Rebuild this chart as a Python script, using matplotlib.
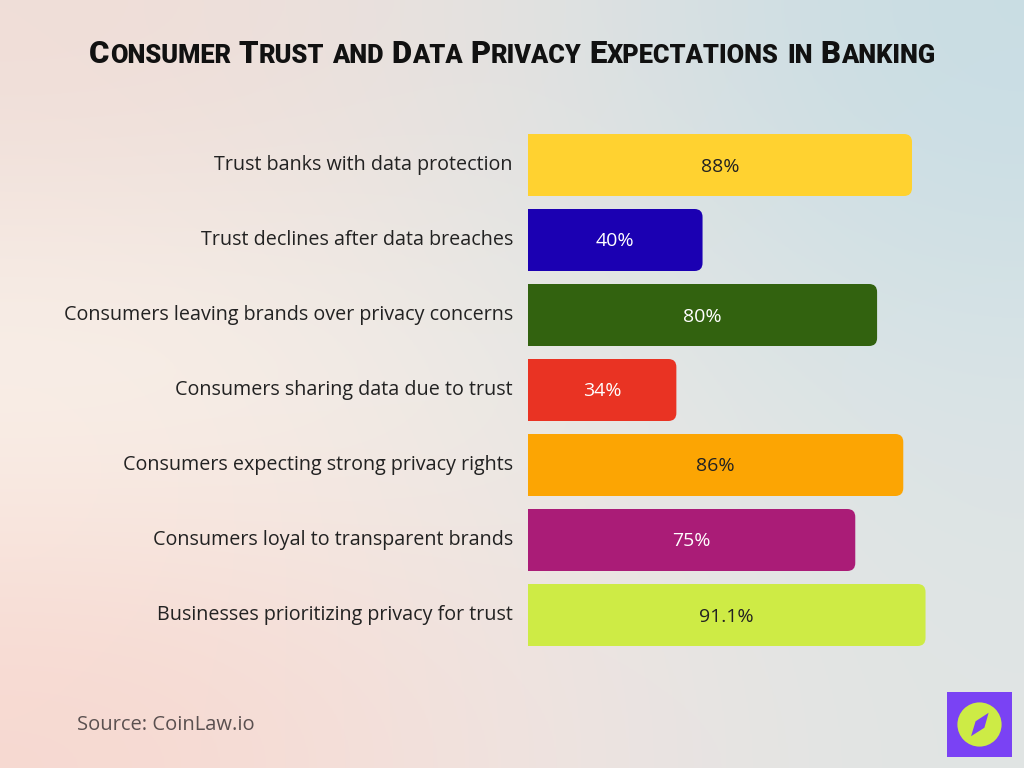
import numpy as np
import matplotlib.pyplot as plt
from matplotlib.patches import FancyBboxPatch, Rectangle, Circle, Polygon

labels = ['Trust banks with data protection',
          'Trust declines after data breaches',
          'Consumers leaving brands over privacy concerns',
          'Consumers sharing data due to trust',
          'Consumers expecting strong privacy rights',
          'Consumers loyal to transparent brands',
          'Businesses prioritizing privacy for trust']
values = [88, 40, 80, 34, 86, 75, 91.1]
value_text = ['88%', '40%', '80%', '34%', '86%', '75%', '91.1%']
colors = ['#FFD230', '#1B00B2', '#32620F', '#E93323', '#FCA503', '#AA1C77', '#CEEB45']
text_colors = ['#222222', 'white', 'white', 'white', '#222222', 'white', '#222222']
title = 'Consumer Trust and Data Privacy Expectations in Banking'

W, H = 1024, 768
fig = plt.figure(figsize=(10.24, 7.68), dpi=100)
renderer = fig.canvas.get_renderer()

# background gradient
bg = fig.add_axes([0, 0, 1, 1])
grid = np.array([
    [[240, 221, 215], [229, 227, 225], [200, 221, 228]],
    [[251, 246, 238], [236, 234, 229], [217, 228, 230]],
    [[247, 216, 208], [242, 228, 224], [224, 228, 228]],
]) / 255.0
bg.imshow(grid, extent=[0, 1, 0, 1], aspect='auto', interpolation='bicubic')
bg.set_xlim(0, 1)
bg.set_ylim(0, 1)
bg.axis('off')

# title in fake small caps: capitals bigger, lowercase shown as smaller capitals
title_font = dict(family=['Roboto', 'DejaVu Sans'], weight='heavy',
                  stretch='condensed', color='#111111')


def split_runs(word):
    runs = []
    for ch in word:
        is_big = ch.isupper()
        if runs and runs[-1][1] == is_big:
            runs[-1][0] += ch.upper()
        else:
            runs.append([ch.upper(), is_big])
    return runs


def draw_title(big, small):
    texts, x = [], 0.0
    for wi, word in enumerate(title.split(' ')):
        if wi > 0:
            x += 0.26 * big * 100 / 72
        for s, is_big in split_runs(word):
            t = fig.text(0, 1 - 63 / H, s, fontsize=big if is_big else small,
                         ha='left', va='baseline', **title_font)
            texts.append((t, x))
            x += t.get_window_extent(renderer).width
    return texts, x


texts, total = draw_title(27, 22)
scale = 845 / total
for t, _ in texts:
    t.remove()
texts, total = draw_title(27 * scale, 22 * scale)
x0 = (W - total) / 2
for t, off in texts:
    t.set_x((x0 + off) / W)

# bar axes
px_per_pct = (912 - 528) / 88
ax_left, ax_right = 528, 1000
ax = fig.add_axes([ax_left / W, 1 - 652.5 / H, (ax_right - ax_left) / W, 525 / H])
ax.set_xlim(0, (ax_right - ax_left) / px_per_pct)
ax.set_ylim(6.5, -0.5)
ax.axis('off')

y = np.arange(len(values))
bars = ax.barh(y, values, height=62 / 75, color=colors)
r = 8 / px_per_pct
for rect, c in zip(bars, colors):
    bx, by = rect.get_x(), rect.get_y()
    w, h = rect.get_width(), rect.get_height()
    rect.set_width(w / 2)  # keeps the left corners square
    ax.add_patch(FancyBboxPatch((bx, by), w, h,
                                boxstyle='round,pad=0,rounding_size=%f' % r,
                                mutation_aspect=(8 / 75) / r,
                                facecolor=c, edgecolor='none'))

for yi, v, s, tc in zip(y, values, value_text, text_colors):
    ax.text(v / 2, yi + 0.02, s, ha='center', va='center', fontsize=14,
            color=tc, family='Open Sans')

for yi, lab in zip(y, labels):
    ax.text(-15 / px_per_pct, yi, lab, ha='right', va='center', fontsize=14.2,
            color='#222222', family='Open Sans')

fig.text(77 / W, 1 - 725 / H, 'Source: CoinLaw.io', fontsize=14.5, color='#5a5050',
         va='center', ha='left', family='Open Sans')

# logo
lg = fig.add_axes([947 / W, 1 - 757 / H, 65 / W, 65 / H])
lg.set_xlim(0, 1)
lg.set_ylim(0, 1)
lg.axis('off')
lg.add_patch(Rectangle((0, 0), 1, 1, facecolor='#7A42F4', edgecolor='none'))
lg.add_patch(Circle((0.5, 0.5), 0.34, facecolor='#CDEB45', edgecolor='none'))
lg.add_patch(Polygon([(0.64, 0.68), (0.575, 0.45), (0.37, 0.32), (0.44, 0.55)],
                     closed=True, facecolor='#7A42F4', edgecolor='none'))

fig.savefig('out.png', dpi=100)
